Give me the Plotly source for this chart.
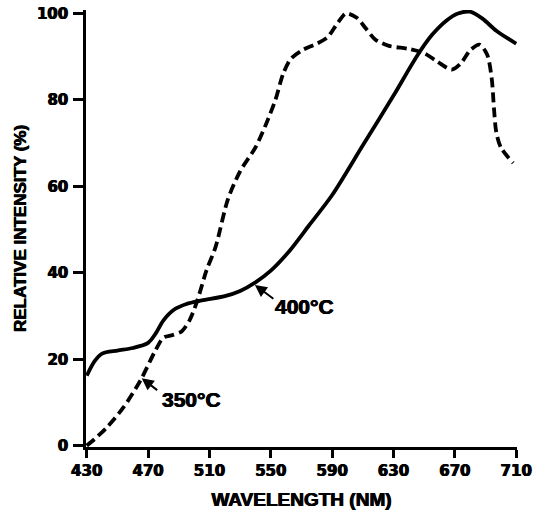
import plotly.graph_objects as go

# 400 °C curve (solid)
wl_400 = [430, 435, 440, 450, 460, 470, 475, 480, 487, 495, 505, 520, 530, 540, 550, 562,
          575, 590, 610, 630, 645, 655, 665, 672, 680, 688, 697, 710]
int_400 = [16.2, 19.5, 21.3, 22.0, 22.6, 23.8, 26.0, 29.0, 31.5, 32.8, 33.6, 34.6, 35.8, 37.8,
           40.5, 45.0, 51.0, 58.0, 69.5, 81.0, 90.0, 95.0, 98.5, 100.0, 100.4, 98.8, 96.0, 93.0]

# 350 °C curve (dashed)
wl_350 = [430, 435, 443, 454, 465, 474, 480, 486, 492, 497, 502, 508, 514, 522, 530, 540, 547,
          553, 558, 563, 571, 580, 587, 593, 599, 606, 612, 618, 627, 640, 650, 658, 668, 674,
          680, 686, 691, 694, 695.5, 697, 700, 708]
int_350 = [0.0, 1.5, 4.2, 8.9, 15.1, 21.5, 25.0, 25.6, 26.5, 29.0, 33.5, 40.5, 46.0, 57.0, 63.5,
           69.0, 74.5, 80.0, 86.0, 89.5, 91.6, 93.0, 94.5, 97.5, 100.0, 99.0, 96.5, 94.0, 92.5,
           91.8, 90.8, 89.0, 87.0, 88.5, 91.5, 92.8, 90.5, 85.0, 78.0, 72.5, 69.0, 65.4]

x_ticks = [430, 470, 510, 550, 590, 630, 670, 710]
y_ticks = [0, 20, 40, 60, 80, 100]

heavy = "0.5px 0 0 black, -0.5px 0 0 black"

fig = go.Figure()
fig.add_trace(go.Scatter(x=wl_400, y=int_400, mode="lines", name="400°C",
                         line=dict(color="black", width=3.8, shape="spline", smoothing=0.8)))
fig.add_trace(go.Scatter(x=wl_350, y=int_350, mode="lines", name="350°C",
                         line=dict(color="black", width=3.8, dash="10px,5px",
                                   shape="spline", smoothing=0.8)))

fig.add_annotation(x=539.6, y=37.2, ax=20, ay=15, axref="pixel", ayref="pixel",
                   text="", showarrow=True, arrowhead=2, arrowsize=1.2, arrowwidth=2,
                   arrowcolor="black")
fig.add_annotation(x=572.2, y=32.2, text="<b>400°C</b>", showarrow=False,
                   font=dict(family="Liberation Sans", size=21, color="black", shadow=heavy))
fig.add_annotation(x=465.8, y=15.6, ax=17, ay=13, axref="pixel", ayref="pixel",
                   text="", showarrow=True, arrowhead=2, arrowsize=1.2, arrowwidth=2,
                   arrowcolor="black")
fig.add_annotation(x=498.6, y=10.8, text="<b>350°C</b>", showarrow=False,
                   font=dict(family="Liberation Sans", size=21, color="black", shadow=heavy))

fig.update_layout(
    width=538, height=515,
    margin=dict(l=86, r=21, t=10, b=68),
    paper_bgcolor="white", plot_bgcolor="white",
    showlegend=False,
)
fig.update_xaxes(
    range=[429.5, 710.5], tickvals=x_ticks, ticktext=[str(v) for v in x_ticks],
    automargin=False,
    showgrid=False, zeroline=False, showline=True, linecolor="black", linewidth=2.5,
    ticks="outside", ticklen=8, tickwidth=2.5, tickcolor="black",
    tickfont=dict(family="DejaVu Sans", size=15, color="black", weight="bold", shadow=heavy),
    title=dict(text="<b>WAVELENGTH (NM)</b>", standoff=14,
               font=dict(family="Liberation Sans", size=19, color="black", shadow=heavy)),
)
fig.update_yaxes(
    range=[-0.3, 100.8], tickvals=y_ticks, ticktext=[str(v) for v in y_ticks],
    automargin=False,
    showgrid=False, zeroline=False, showline=True, linecolor="black", linewidth=2.5,
    ticks="outside", ticklen=10, tickwidth=2.5, tickcolor="black",
    ticklabelstandoff=2,
    tickfont=dict(family="DejaVu Sans", size=15, color="black", weight="bold", shadow=heavy),
    title=dict(text="<b>RELATIVE INTENSITY (%)</b>", standoff=6,
               font=dict(family="Liberation Sans", size=17, color="black", shadow=heavy)),
)

fig.write_html("out.html", config={"displayModeBar": False},
               post_script="document.body.style.margin='0';document.body.style.overflow='hidden';")
